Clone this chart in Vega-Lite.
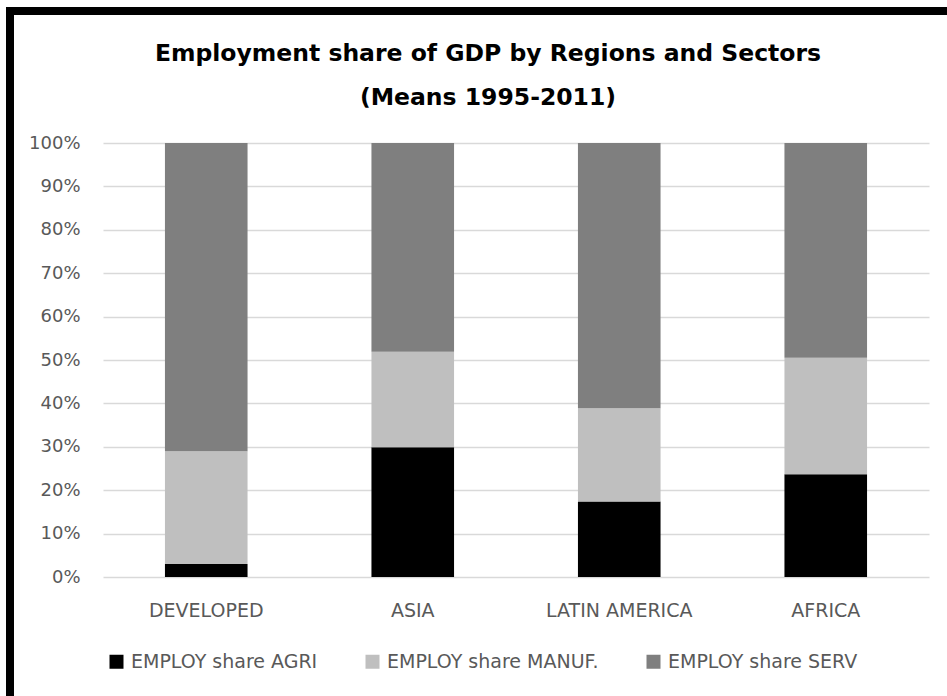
{
  "$schema": "https://vega.github.io/schema/vega-lite/v6.json",
  "autosize": {"type": "none"},
  "width": 950,
  "height": 700,
  "padding": {"left": 10, "top": 11, "right": -13, "bottom": -15},
  "background": "white",
  "title": {
    "text": ["Employment share of GDP by Regions and Sectors", "(Means 1995-2011)"],
    "font": "DejaVu Sans",
    "fontSize": 23.5,
    "fontWeight": "bold",
    "color": "#000000",
    "lineHeight": 44,
    "anchor": "middle",
    "frame": "group",
    "dx": 3,
    "offset": -98
  },
  "data": {
    "values": [
      {"region": "DEVELOPED", "sector": "EMPLOY share AGRI", "share": 3.0},
      {"region": "DEVELOPED", "sector": "EMPLOY share MANUF.", "share": 26.0},
      {"region": "DEVELOPED", "sector": "EMPLOY share SERV", "share": 71.0},
      {"region": "ASIA", "sector": "EMPLOY share AGRI", "share": 29.9},
      {"region": "ASIA", "sector": "EMPLOY share MANUF.", "share": 22.0},
      {"region": "ASIA", "sector": "EMPLOY share SERV", "share": 48.1},
      {"region": "LATIN AMERICA", "sector": "EMPLOY share AGRI", "share": 17.4},
      {"region": "LATIN AMERICA", "sector": "EMPLOY share MANUF.", "share": 21.5},
      {"region": "LATIN AMERICA", "sector": "EMPLOY share SERV", "share": 61.1},
      {"region": "AFRICA", "sector": "EMPLOY share AGRI", "share": 23.7},
      {"region": "AFRICA", "sector": "EMPLOY share MANUF.", "share": 26.8},
      {"region": "AFRICA", "sector": "EMPLOY share SERV", "share": 49.5}
    ]
  },
  "mark": {"type": "bar"},
  "encoding": {
    "x": {
      "field": "region",
      "type": "nominal",
      "sort": ["DEVELOPED", "ASIA", "LATIN AMERICA", "AFRICA"],
      "scale": {"range": [93, 919], "paddingInner": 0.6, "paddingOuter": 0.3},
      "axis": {
        "title": null,
        "orient": "bottom",
        "offset": -134,
        "domain": false,
        "ticks": false,
        "tickSize": 0,
        "labelPadding": 24,
        "labelAngle": 0,
        "labelFont": "DejaVu Sans",
        "labelFontSize": 19,
        "labelColor": "#595959",
        "grid": false
      }
    },
    "y": {
      "field": "share",
      "type": "quantitative",
      "stack": "normalize",
      "scale": {"range": [566, 132], "domain": [0, 1], "nice": false},
      "axis": {
        "title": null,
        "orient": "left",
        "offset": -93,
        "domain": false,
        "ticks": false,
        "tickSize": 0,
        "labelPadding": 23,
        "values": [0, 0.1, 0.2, 0.3, 0.4, 0.5, 0.6, 0.7, 0.8, 0.9, 1],
        "format": ".0%",
        "labelFont": "DejaVu Sans",
        "labelFontSize": 18,
        "labelColor": "#595959",
        "grid": true,
        "gridColor": "#d9d9d9",
        "gridWidth": 1.5
      }
    },
    "color": {
      "field": "sector",
      "type": "nominal",
      "scale": {
        "domain": ["EMPLOY share AGRI", "EMPLOY share MANUF.", "EMPLOY share SERV"],
        "range": ["#000000", "#bfbfbf", "#7f7f7f"]
      },
      "legend": {
        "title": null,
        "orient": "none",
        "legendX": 97,
        "legendY": 641,
        "direction": "horizontal",
        "symbolType": "square",
        "symbolSize": 196,
        "symbolStrokeWidth": 0,
        "labelFont": "DejaVu Sans",
        "labelFontSize": 19,
        "labelColor": "#595959",
        "labelLimit": 0,
        "labelOffset": 5,
        "columnPadding": 45,
        "padding": 0
      }
    },
    "order": {"field": "sector", "sort": "ascending"}
  },
  "config": {
    "view": {"stroke": "#000000", "strokeWidth": 8, "fill": "white"}
  }
}
